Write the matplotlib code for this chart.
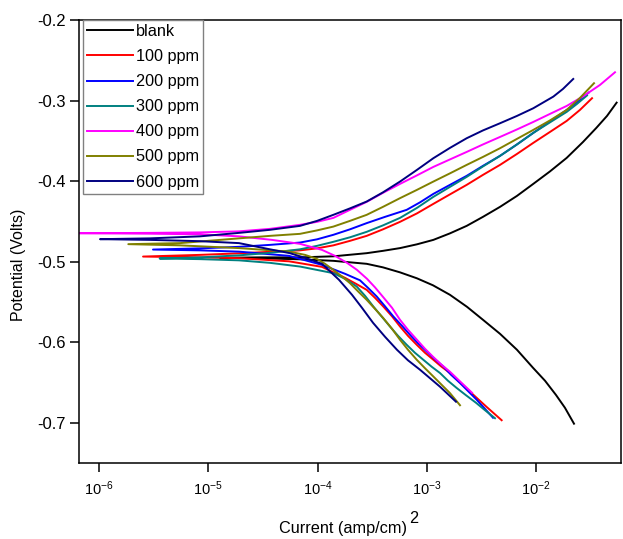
import numpy as np
import matplotlib
matplotlib.use("Agg")
import matplotlib.pyplot as plt
from matplotlib.ticker import FixedLocator, NullLocator

plt.rcParams['font.family'] = ['Liberation Sans', 'DejaVu Sans']
plt.rcParams['mathtext.fontset'] = 'custom'
plt.rcParams['mathtext.rm'] = 'Liberation Sans'
plt.rcParams['mathtext.it'] = 'Liberation Sans:italic'

# Tafel curves: log10(current) and potential (V)
# each series = cathodic branch (lower) + anodic branch (upper), both starting at Ecorr
blank_cat_logi = [-4.893, -4.527, -4.161, -3.856, -3.551, -3.402, -3.246, -3.091, -2.944, -2.789, -2.633, -2.487,
                  -2.331, -2.176, -2.029, -1.919, -1.819, -1.737, -1.654]
blank_cat_E = [-0.4953, -0.4959, -0.4971, -0.4990, -0.5027, -0.5071, -0.5133, -0.5207, -0.5294, -0.5412, -0.5561,
               -0.5722, -0.5896, -0.6094, -0.6318, -0.6479, -0.6655, -0.6814, -0.7012]
blank_an_logi = [-4.893, -4.527, -4.161, -3.856, -3.551, -3.402, -3.246, -3.091, -2.941, -2.789, -2.636, -2.487,
                 -2.331, -2.176, -2.027, -1.874, -1.721, -1.572, -1.450, -1.352, -1.264]
blank_an_E = [-0.4953, -0.4947, -0.4947, -0.4934, -0.4895, -0.4866, -0.4832, -0.4785, -0.4730, -0.4649, -0.4556,
              -0.4444, -0.4320, -0.4184, -0.4035, -0.3880, -0.3712, -0.3515, -0.3340, -0.3191, -0.3026]

p100_cat_logi = [-5.597, -5.076, -4.719, -4.262, -3.960, -3.749, -3.649, -3.551, -3.475, -3.399, -3.319, -3.246,
                 -3.173, -3.093, -3.017, -2.941, -2.871, -2.789, -2.688, -2.575, -2.450, -2.316]
p100_cat_E = [-0.4937, -0.4947, -0.4957, -0.4996, -0.5065, -0.5201, -0.5275, -0.5350, -0.5449, -0.5557, -0.5679,
              -0.5805, -0.5921, -0.6032, -0.6132, -0.6218, -0.6299, -0.6383, -0.6510, -0.6653, -0.6808, -0.6969]
p100_an_logi = [-5.597, -5.076, -4.719, -4.436, -4.161, -4.005, -3.856, -3.704, -3.551, -3.402, -3.246, -3.091,
                -2.941, -2.789, -2.636, -2.487, -2.331, -2.176, -2.027, -1.874, -1.721, -1.600, -1.489]
p100_an_E = [-0.4937, -0.4916, -0.4897, -0.4878, -0.4860, -0.4835, -0.4798, -0.4742, -0.4680, -0.4599, -0.4506,
             -0.4401, -0.4283, -0.4165, -0.4047, -0.3923, -0.3799, -0.3663, -0.3526, -0.3390, -0.3253, -0.3117, -0.2971]

p200_cat_logi = [-5.506, -5.076, -4.719, -4.262, -3.960, -3.749, -3.612, -3.539, -3.459, -3.383, -3.307, -3.228,
                 -3.155, -3.081, -3.002, -2.926, -2.850, -2.779, -2.697, -2.544, -2.395]
p200_cat_E = [-0.4850, -0.4860, -0.4876, -0.4928, -0.5040, -0.5151, -0.5232, -0.5325, -0.5433, -0.5555, -0.5681,
              -0.5797, -0.5908, -0.6014, -0.6115, -0.6212, -0.6302, -0.6404, -0.6507, -0.6715, -0.6938]
p200_an_logi = [-5.506, -5.076, -4.719, -4.436, -4.161, -4.005, -3.856, -3.704, -3.551, -3.383, -3.185, -3.063,
                -2.941, -2.789, -2.636, -2.487, -2.331, -2.176, -2.027, -1.874, -1.721, -1.618, -1.520]
p200_an_E = [-0.4850, -0.4835, -0.4816, -0.4792, -0.4763, -0.4723, -0.4667, -0.4599, -0.4522, -0.4444, -0.4357,
             -0.4264, -0.4159, -0.4047, -0.3935, -0.3811, -0.3687, -0.3545, -0.3402, -0.3259, -0.3117, -0.3011, -0.2902]

p300_cat_logi = [-5.445, -5.076, -4.719, -4.436, -4.161, -3.856, -3.749, -3.642, -3.566, -3.490, -3.414, -3.338,
                 -3.264, -3.185, -3.109, -3.033, -2.956, -2.880, -2.807, -2.727, -2.642, -2.551, -2.468, -2.377]
p300_cat_E = [-0.4961, -0.4969, -0.4984, -0.5015, -0.5061, -0.5143, -0.5213, -0.5309, -0.5424, -0.5557, -0.5681,
              -0.5805, -0.5921, -0.6032, -0.6132, -0.6218, -0.6305, -0.6383, -0.6479, -0.6569, -0.6659, -0.6752,
              -0.6845, -0.6944]
p300_an_logi = [-5.445, -5.076, -4.719, -4.436, -4.161, -4.005, -3.856, -3.704, -3.551, -3.402, -3.246, -3.091,
                -2.941, -2.789, -2.636, -2.487, -2.331, -2.176, -2.027, -1.874, -1.721, -1.627, -1.535]
p300_an_E = [-0.4961, -0.4947, -0.4922, -0.4891, -0.4847, -0.4804, -0.4754, -0.4698, -0.4630, -0.4550, -0.4457,
             -0.4333, -0.4196, -0.4072, -0.3948, -0.3818, -0.3687, -0.3545, -0.3402, -0.3271, -0.3141, -0.3042, -0.2937]

p400_cat_logi = [-6.183, -5.533, -5.076, -4.719, -4.417, -4.161, -3.960, -3.841, -3.731, -3.640, -3.548, -3.475,
                 -3.402, -3.319, -3.246, -3.173, -3.091, -3.017, -2.944, -2.871, -2.789, -2.688, -2.587]
p400_cat_E = [-0.4647, -0.4653, -0.4661, -0.4686, -0.4730, -0.4779, -0.4854, -0.4928, -0.5015, -0.5102, -0.5213,
              -0.5319, -0.5437, -0.5573, -0.5722, -0.5846, -0.5970, -0.6082, -0.6181, -0.6274, -0.6367, -0.6498, -0.6628]
p400_an_logi = [-6.183, -5.533, -5.076, -4.719, -4.436, -4.161, -4.005, -3.856, -3.704, -3.551, -3.402, -3.246,
                -3.091, -2.941, -2.789, -2.636, -2.487, -2.331, -2.176, -2.027, -1.874, -1.721, -1.572, -1.416, -1.279]
p400_an_E = [-0.4647, -0.4643, -0.4637, -0.4624, -0.4593, -0.4543, -0.4506, -0.4457, -0.4357, -0.4258, -0.4146,
             -0.4035, -0.3929, -0.3824, -0.3731, -0.3638, -0.3545, -0.3452, -0.3359, -0.3266, -0.3166, -0.3067,
             -0.2949, -0.2806, -0.2649]

p500_cat_logi = [-5.732, -5.259, -4.719, -4.262, -4.115, -4.008, -3.932, -3.856, -3.779, -3.704, -3.630, -3.551,
                 -3.475, -3.399, -3.319, -3.246, -3.173, -3.093, -3.017, -2.941, -2.865, -2.789, -2.697]
p500_cat_E = [-0.4783, -0.4798, -0.4832, -0.4875, -0.4916, -0.4965, -0.5027, -0.5102, -0.5182, -0.5267, -0.5369,
              -0.5474, -0.5586, -0.5701, -0.5834, -0.5970, -0.6094, -0.6218, -0.6324, -0.6426, -0.6529, -0.6632, -0.6783]
p500_an_logi = [-5.732, -5.259, -4.719, -4.436, -4.161, -4.005, -3.856, -3.704, -3.551, -3.402, -3.246, -3.091,
                -2.941, -2.789, -2.636, -2.487, -2.331, -2.176, -2.027, -1.874, -1.721, -1.600, -1.471]
p500_an_E = [-0.4783, -0.4770, -0.4711, -0.4680, -0.4655, -0.4612, -0.4565, -0.4494, -0.4419, -0.4320, -0.4212,
             -0.4109, -0.4006, -0.3904, -0.3799, -0.3700, -0.3592, -0.3476, -0.3365, -0.3247, -0.3117, -0.2968, -0.2785]

p600_cat_logi = [-5.991, -5.533, -5.076, -4.719, -4.436, -4.253, -4.106, -3.960, -3.887, -3.804, -3.685, -3.594,
                 -3.493, -3.383, -3.274, -3.173, -3.063, -2.880, -2.734]
p600_cat_E = [-0.4721, -0.4730, -0.4746, -0.4770, -0.4847, -0.4895, -0.4957, -0.5027, -0.5120, -0.5226, -0.5412,
              -0.5573, -0.5759, -0.5933, -0.6094, -0.6225, -0.6342, -0.6553, -0.6739]
p600_an_logi = [-5.991, -5.533, -5.076, -4.719, -4.436, -4.161, -4.005, -3.856, -3.704, -3.551, -3.402, -3.246,
                -3.091, -2.941, -2.789, -2.636, -2.487, -2.331, -2.176, -2.027, -1.843, -1.755, -1.661]
p600_an_E = [-0.4721, -0.4711, -0.4686, -0.4643, -0.4605, -0.4556, -0.4494, -0.4419, -0.4339, -0.4254, -0.4140,
             -0.4006, -0.3861, -0.3716, -0.3588, -0.3468, -0.3371, -0.3282, -0.3191, -0.3096, -0.2951, -0.2856, -0.2732]

labels = ['blank', '100 ppm', '200 ppm', '300 ppm', '400 ppm', '500 ppm', '600 ppm']
colors = ['black', '#ff0000', '#0000ff', '#008080', '#ff00ff', '#808000', '#000080']

series = [
    (blank_cat_logi, blank_cat_E, blank_an_logi, blank_an_E),
    (p100_cat_logi, p100_cat_E, p100_an_logi, p100_an_E),
    (p200_cat_logi, p200_cat_E, p200_an_logi, p200_an_E),
    (p300_cat_logi, p300_cat_E, p300_an_logi, p300_an_E),
    (p400_cat_logi, p400_cat_E, p400_an_logi, p400_an_E),
    (p500_cat_logi, p500_cat_E, p500_an_logi, p500_an_E),
    (p600_cat_logi, p600_cat_E, p600_an_logi, p600_an_E),
]

fig = plt.figure(figsize=(6.23, 5.39), dpi=100)
ax = fig.add_axes([79/623, 76/539, 542/623, 443/539])

for (cl, ce, al, ae), lab, col in zip(series, labels, colors):
    logi = cl[::-1] + al[1:]
    E = ce[::-1] + ae[1:]
    ax.plot(10**np.array(logi), E, color=col, lw=1.4, label=lab, solid_joinstyle='round')

ax.set_xscale('log')
ax.set_xlim(10**-6.183, 10**-1.224)
ax.set_ylim(-0.75, -0.2)
ax.xaxis.set_major_locator(FixedLocator([1e-6, 1e-5, 1e-4, 1e-3, 1e-2]))
ax.xaxis.set_minor_locator(NullLocator())
yt = [-0.2, -0.3, -0.4, -0.5, -0.6, -0.7]
ax.set_yticks(yt)
ax.set_yticklabels(['%.1f' % v for v in yt])
ax.tick_params(direction='out', length=6.5, width=1.1, color='black')
ax.tick_params(axis='x', pad=5, labelsize=10.5)
ax.tick_params(axis='y', pad=3, labelsize=12)
for s in ax.spines.values():
    s.set_linewidth(1.1)

ax.set_ylabel('Potential (Volts)', fontsize=11.5)
ax.yaxis.set_label_coords(-0.098, 0.447)
ax.set_xlabel('Current (amp/cm)', fontsize=11.7)
ax.xaxis.set_label_coords(0.488, -0.131)
ax.annotate('2', xy=(1, 1), xycoords=ax.xaxis.label, xytext=(1.5, 1.5), textcoords='offset points',
            fontsize=11.7, ha='left', va='center')

leg = ax.legend(loc='upper left', bbox_to_anchor=(4/542, 1.0), borderaxespad=0, fontsize=11.7,
                frameon=True, fancybox=False, handlelength=2.8, handletextpad=0.2,
                labelspacing=0.62, borderpad=0.25)
leg.get_frame().set_edgecolor('#808080')
leg.get_frame().set_linewidth(1.0)
leg.get_frame().set_alpha(1)

fig.savefig('out.png', dpi=100)
